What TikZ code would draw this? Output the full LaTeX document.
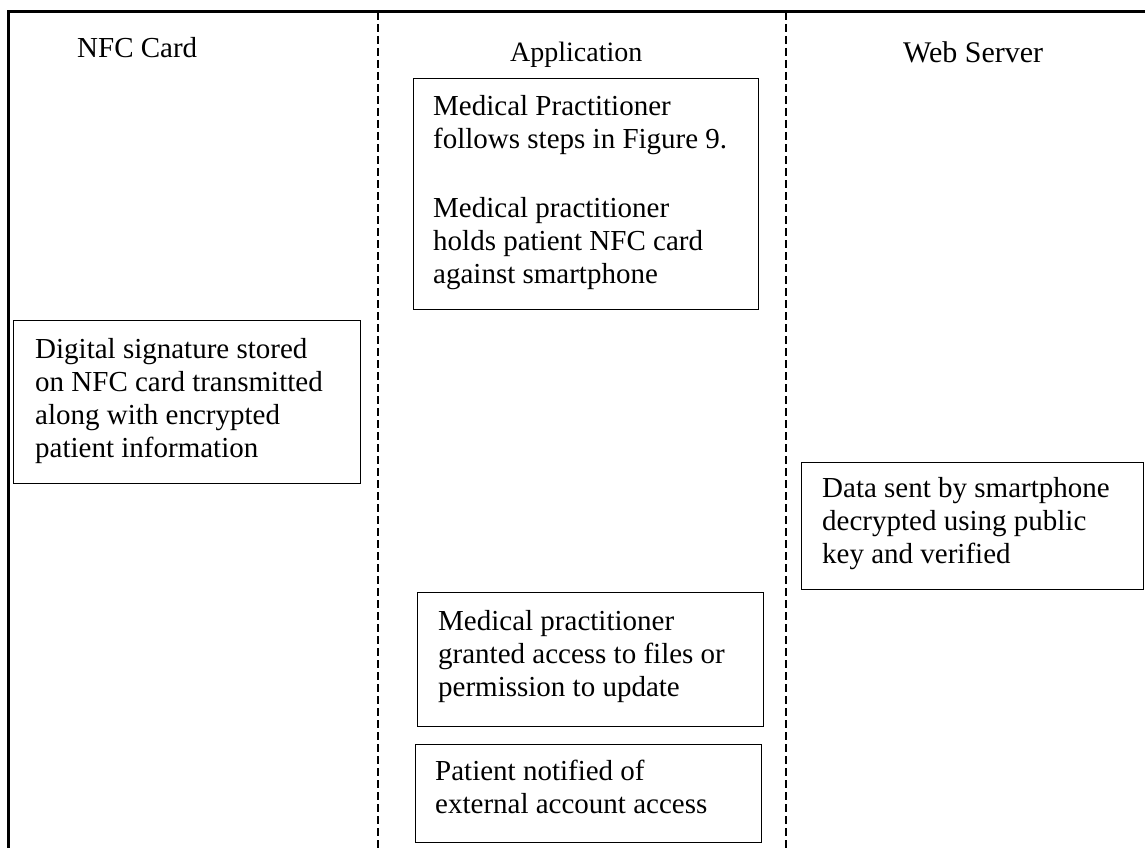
\documentclass[tikz,border=0pt]{standalone}
\usepackage{fontspec}
\setmainfont{Liberation Serif}
\newcommand\boxfont{\fontsize{29}{33}\selectfont}

\tikzset{
  frameline/.style={line width=3pt, line join=miter},
  lane/.style={line width=1.3pt, dash pattern=on 8pt off 4pt},
  box/.style={draw, line width=1.2pt, inner sep=0pt, anchor=north west},
  txt/.style={anchor=north west, inner sep=0pt, align=left, font=\boxfont},
  head/.style={anchor=base west, inner sep=0pt},
}

\begin{document}
\begin{tikzpicture}[x=1pt, y=-1pt]
  \useasboundingbox (0,0) rectangle (1145,848);
  \clip (0,0) rectangle (1145,848);

  % outer frame (top and left edges)
  \coordinate (fbl) at (8,870);
  \coordinate (ftl) at (8,12);
  \coordinate (ftr) at (1170,12);
  \draw[frameline] (fbl) -- (ftl) -- (ftr);

  % lane separators
  \coordinate (s1t) at (378,12);
  \coordinate (s1b) at (378,860);
  \coordinate (s2t) at (786,12);
  \coordinate (s2b) at (786,860);
  \draw[lane] (s1t) -- (s1b);
  \draw[lane] (s2t) -- (s2b);

  % lane headings
  \node[head, font=\fontsize{29}{33}\selectfont] (hcard) at (77,58) {NFC Card};
  \node[head, font=\fontsize{28}{33}\selectfont] (happ) at (510,62) {Application};
  \node[head, font=\fontsize{30}{33}\selectfont] (hweb) at (903,63) {Web Server};

  % Application: preparation steps
  \node[box, minimum width=345pt, minimum height=231pt] (prep) at (413,78) {};
  \node[txt] (prepa) at (433,91.9) {\strut Medical Practitioner\\follows steps in Figure 9.};
  \node[txt] (prepb) at (433,193.9) {\strut Medical practitioner\\holds patient NFC card\\against smartphone};

  % NFC card
  \node[box, minimum width=347pt, minimum height=163pt] (sig) at (13,320) {};
  \node[txt] (sigtext) at (35,334.9) {\strut Digital signature stored\\on NFC card transmitted\\along with encrypted\\patient information};

  % Web server
  \node[box, minimum width=342pt, minimum height=127pt] (verify) at (801,462) {};
  \node[txt] (verifytext) at (822,473.9) {\strut Data sent by smartphone\\decrypted using public\\key and verified};

  % Application: outcome
  \node[box, minimum width=346pt, minimum height=134pt] (grant) at (417,592) {};
  \node[txt] (granttext) at (438,606.9) {\strut Medical practitioner\\granted access to files or\\permission to update};

  \node[box, minimum width=346pt, minimum height=98pt] (notify) at (415,744) {};
  \node[txt] (notifytext) at (435,756.9) {\strut Patient notified of\\external account access};
\end{tikzpicture}
\end{document}
